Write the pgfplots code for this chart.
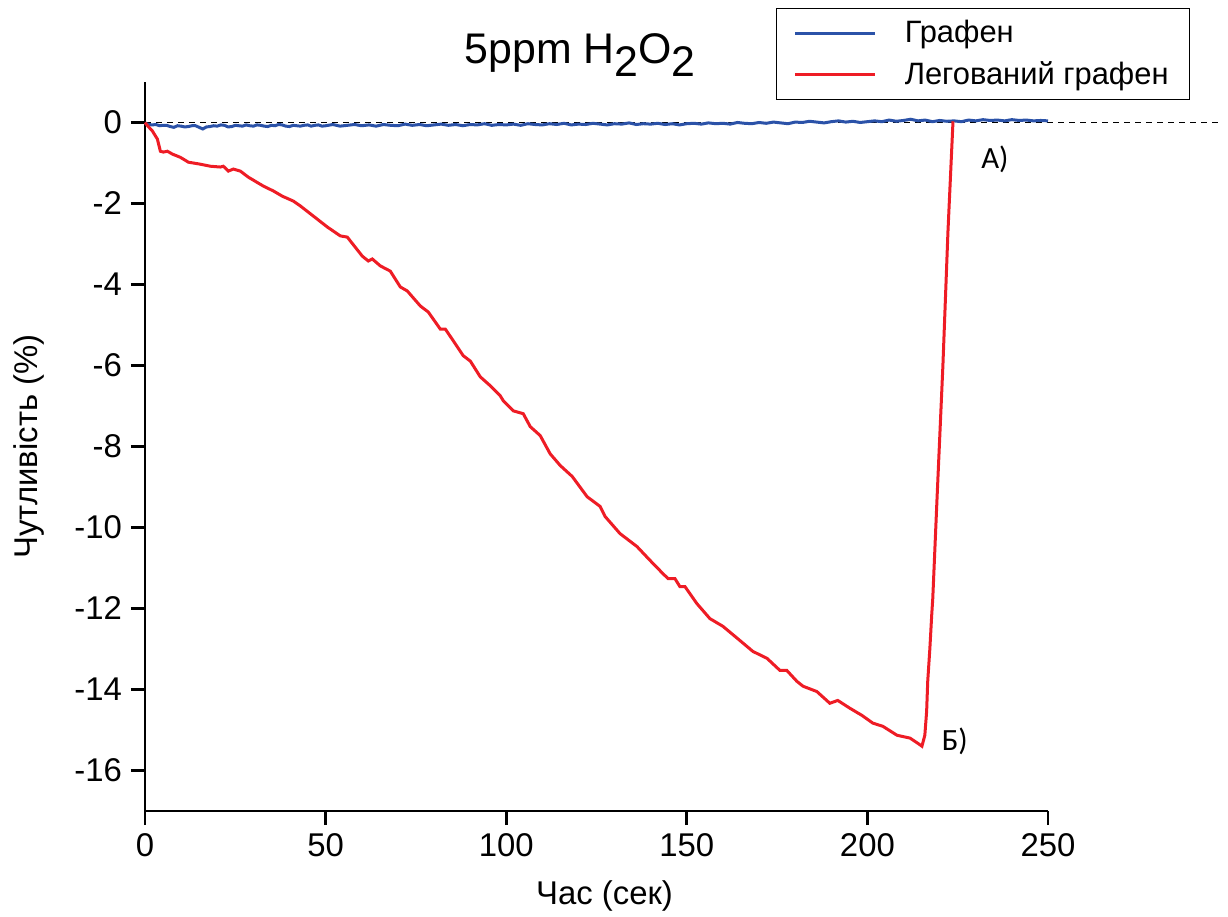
\documentclass[border=0pt]{standalone}
\usepackage{pgfplots}
\pgfplotsset{compat=1.18}
\usepackage{fontspec}
\setmainfont{Liberation Sans}
\newfontfamily\carlito{Carlito}
\definecolor{cblue}{HTML}{2B52A8}
\definecolor{cred}{HTML}{EE1C25}
\begin{document}
\begin{tikzpicture}
\useasboundingbox (-72.5bp,-53bp) rectangle (541.5bp,405.5bp);
\begin{axis}[
  at={(0,0)}, anchor=south west,
  scale only axis, width=451.5bp, height=364.5bp,
  xmin=0, xmax=250, ymin=-17, ymax=1,
  axis x line*=bottom, axis y line*=left,
  axis line style={line width=1.4bp,-},
  xtick={0,50,100,150,200,250},
  ytick={0,-2,-4,-6,-8,-10,-12,-14,-16},
  tick align=outside, major tick length=7bp,
  every tick/.style={line width=1.4bp, black},
  minor tick num=0,
  /pgf/number format/assume math mode=true,
  ticklabel style={font=\fontsize{16.5}{19}\selectfont},
  xticklabel style={yshift=-1bp},
  yticklabel style={xshift=-1bp},
  xlabel={Час (сек)}, ylabel={Чутливість (\%)},
  label style={font=\fontsize{16.5}{19}\selectfont},
  xlabel style={yshift=-5bp, xshift=4bp},
  ylabel style={yshift=8bp},
  clip=false,
  legend style={at={(0.699,1.1015)}, anchor=north west, draw=black, line width=0.6bp,
    font=\fontsize{15.5}{18}\selectfont, inner xsep=8.5bp, inner ysep=4bp,
    nodes={inner sep=2bp}, row sep=4bp, column sep=12bp},
  legend cell align=left,
  legend image code/.code={\draw[#1, line width=1.5bp] (0bp,0bp) -- (40bp,0bp);},
]
\draw[black, dashed, line width=0.5bp, dash pattern=on 3bp off 2.5bp] (axis cs:0,0) -- (axis cs:297.5,0);
\addplot[cblue, line width=1.5bp] coordinates {
(0,-0.02) (1,-0.05) (2,-0.06) (3,-0.05) (4,-0.08) (5,-0.07) (6,-0.07) (7,-0.10) (8,-0.12) (9,-0.08) (10,-0.09) (11,-0.11) (12,-0.10) (13,-0.08) (14,-0.08) (15,-0.12) (16,-0.16) (17,-0.11) (18,-0.10) (19,-0.08) (20,-0.09) (21,-0.06) (22,-0.07) (23,-0.11) (24,-0.10) (25,-0.07) (26,-0.08) (27,-0.09) (28,-0.06) (29,-0.08) (30,-0.09) (31,-0.06) (32,-0.07) (33,-0.09) (34,-0.10) (35,-0.07) (36,-0.08) (37,-0.05) (38,-0.06) (39,-0.09) (40,-0.10) (41,-0.07) (42,-0.08) (43,-0.09) (44,-0.07) (45,-0.06) (46,-0.09) (47,-0.07) (48,-0.06) (49,-0.09) (50,-0.08)
(52,-0.05) (54,-0.09) (56,-0.07) (58,-0.05) (60,-0.08) (62,-0.06) (64,-0.09) (66,-0.05) (68,-0.07) (70,-0.08) (72,-0.04) (74,-0.07) (76,-0.05) (78,-0.08) (80,-0.06) (82,-0.04) (84,-0.07) (86,-0.05) (88,-0.08) (90,-0.05) (92,-0.06) (94,-0.03) (96,-0.07) (98,-0.05) (100,-0.06)
(102,-0.04) (104,-0.07) (106,-0.03) (108,-0.05) (110,-0.06) (112,-0.03) (114,-0.05) (116,-0.02) (118,-0.06) (120,-0.04) (122,-0.05) (124,-0.02) (126,-0.04) (128,-0.06) (130,-0.03) (132,-0.04) (134,-0.01) (136,-0.05) (138,-0.03) (140,-0.04) (142,-0.02) (144,-0.05) (146,-0.03) (148,-0.06) (150,-0.03)
(152,-0.02) (154,-0.04) (156,-0.01) (158,-0.03) (160,-0.02) (162,-0.04) (164,0.00) (166,-0.02) (168,-0.03) (170,0.00) (172,-0.02) (174,0.01) (176,-0.01) (178,-0.03) (180,0.01) (182,0.00) (184,0.03) (186,0.01) (188,-0.01) (190,0.02) (192,0.04) (194,0.01) (196,0.03) (198,0.00) (200,0.02)
(202,0.04) (204,0.02) (206,0.06) (208,0.03) (210,0.05) (212,0.08) (214,0.04) (216,0.06) (218,0.02) (220,0.05) (222,0.03) (224,0.04) (226,0.02) (228,0.06) (230,0.04) (232,0.07) (234,0.05) (236,0.06) (238,0.04) (240,0.07) (242,0.05) (244,0.06) (246,0.04) (248,0.05) (250,0.04)
};
\addlegendentry{Графен}
\addplot[cred, line width=1.5bp] coordinates {
(0,0) (0.8,-0.09) (2.05,-0.21) (3.43,-0.41) (4.26,-0.71) (5.09,-0.73) (6.20,-0.71) (7.58,-0.78) (9.79,-0.86) (12.01,-0.98) (15.33,-1.03) (18.10,-1.08) (20.86,-1.10) (21.69,-1.08) (23.08,-1.20) (24.46,-1.15) (26.40,-1.20) (28.61,-1.35) (32.76,-1.57) (35.53,-1.69) (38.02,-1.82) (41.06,-1.94) (43.00,-2.06) (46.60,-2.31) (50.47,-2.58) (54.07,-2.80) (56.01,-2.83) (60.16,-3.30) (61.82,-3.42) (62.93,-3.37) (65.14,-3.54) (67.91,-3.67) (70.68,-4.06) (72.62,-4.16) (76.22,-4.53) (78.43,-4.68) (81.75,-5.10) (83.14,-5.10) (85.35,-5.39) (88.12,-5.76) (90.06,-5.89) (92.82,-6.28) (95.59,-6.50) (98.36,-6.75) (99.19,-6.87) (101.96,-7.12) (104.72,-7.19) (106.66,-7.51) (109.41,-7.73) (112.17,-8.18) (114.96,-8.47) (118.28,-8.74) (122.4,-9.24) (126.0,-9.48) (127.4,-9.73) (131.5,-10.15) (136.2,-10.47) (139.8,-10.81) (143.4,-11.14) (144.8,-11.26) (146.7,-11.26) (148.1,-11.46) (149.5,-11.46) (152.8,-11.88) (156.4,-12.25) (160.0,-12.44) (164.7,-12.79) (168.3,-13.06) (172.2,-13.23) (175.8,-13.53) (177.7,-13.53) (180.5,-13.80) (182.2,-13.92) (186.0,-14.05) (189.6,-14.34) (191.8,-14.27) (195.1,-14.46) (198.5,-14.64) (201.5,-14.83) (204.3,-14.91) (208.2,-15.13) (211.8,-15.20) (214.0,-15.33) (215.1,-15.40) (215.9,-15.13) (216.4,-14.54) (216.7,-13.80) (217.3,-12.98) (217.8,-12.17) (218.1,-11.75) (219.3,-9.24) (220.9,-6.01) (222.3,-2.70) (223.7,0.03)
};
\addlegendentry{Легований графен}
\node[font=\fontsize{21.5}{25}\selectfont, anchor=base] at (rel axis cs:0.482,1.026) {5ppm H\raisebox{-6.5bp}{2}O\raisebox{-6.5bp}{2}};
\node[font=\carlito\fontsize{15.5}{18}\selectfont] at (axis cs:235.3,-0.905) {А)};
\node[font=\carlito\fontsize{15.5}{18}\selectfont] at (axis cs:224.2,-15.28) {Б)};
\end{axis}
\end{tikzpicture}
\end{document}
